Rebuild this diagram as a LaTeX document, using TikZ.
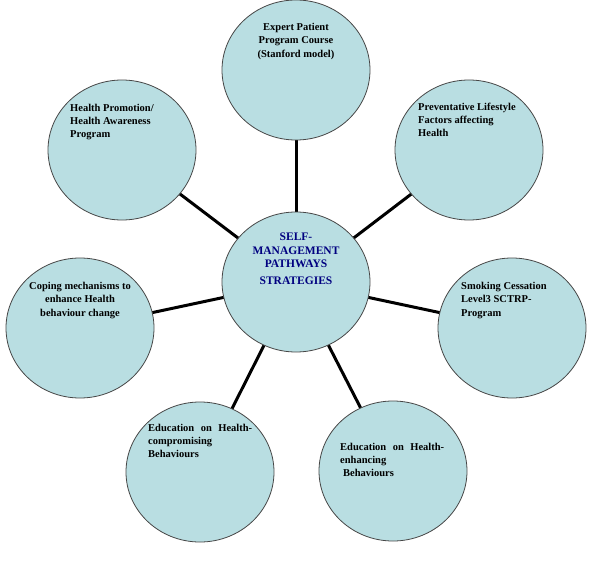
\documentclass[tikz,border=0pt]{standalone}
\usepackage{fontspec}
\setmainfont{Liberation Serif}
\usetikzlibrary{shapes.geometric}
\definecolor{bubble}{RGB}{185,222,226}
\definecolor{rimcol}{RGB}{70,70,70}
\definecolor{navy}{RGB}{0,0,128}
\tikzset{
  bub/.style={ellipse,draw=rimcol,line width=0.8pt,fill=bubble,minimum width=148pt,minimum height=140pt,inner sep=0pt},
  spoke/.style={line width=3pt,black},
  lab/.style={inner sep=0pt,font=\bfseries\fontsize{10.5}{12.8}\selectfont,text=black},
  mid/.style={inner sep=0pt,font=\bfseries\fontsize{11.5}{13.5}\selectfont,text=navy,align=center}
}
\begin{document}
\begin{tikzpicture}[x=1pt,y=-1pt]
\useasboundingbox (0,0) rectangle (593,564);
% spokes first
\coordinate (pc) at (296,282);
\coordinate (pt) at (296,70);
\coordinate (pul) at (122,150);
\coordinate (pur) at (469,150);
\coordinate (pl) at (80,328);
\coordinate (pr) at (512,328);
\coordinate (pbl) at (200,472);
\coordinate (pbr) at (393,471);
\draw[spoke] (pc) -- (pt);
\draw[spoke] (pc) -- (pul);
\draw[spoke] (pc) -- (pur);
\draw[spoke] (pc) -- (pl);
\draw[spoke] (pc) -- (pr);
\draw[spoke] (pc) -- (pbl);
\draw[spoke] (pc) -- (pbr);
% bubbles
\node[bub] (t) at (pt) {};
\node[bub] (ul) at (pul) {};
\node[bub] (ur) at (pur) {};
\node[bub] (l) at (pl) {};
\node[bub] (r) at (pr) {};
\node[bub] (bl) at (pbl) {};
\node[bub] (br) at (pbr) {};
\node[bub] (c) at (pc) {};
% texts
\node[mid,anchor=north] (ct) at (296,233) {SELF-\\MANAGEMENT\\PATHWAYS\\[3pt]STRATEGIES};
\node[lab,align=center,anchor=north] (tt) at (296,23) {Expert Patient\\Program Course\\[1pt](Stanford model)};
\node[lab,align=left,anchor=north west] (ult) at (70,104) {Health Promotion/\\Health Awareness\\Program};
\node[lab,align=left,anchor=north west] (urt) at (418,103) {Preventative Lifestyle\\Factors affecting\\Health};
\node[lab,align=left,anchor=north west] (rt) at (461,282) {Smoking Cessation\\Level3 SCTRP-\\[1pt]Program};
\node[lab,align=center,anchor=north] (lt) at (80,282) {Coping mechanisms to\\enhance Health\\[1pt]behaviour change};
\node[lab,align=left,anchor=north west] (blt) at (148,424) {\makebox[104pt][s]{Education on Health-}\\compromising\\Behaviours};
\node[lab,align=left,anchor=north west] (brt) at (340,443) {\makebox[104pt][s]{Education on Health-}\\enhancing\\\hspace*{3pt}Behaviours};
\end{tikzpicture}
\end{document}
